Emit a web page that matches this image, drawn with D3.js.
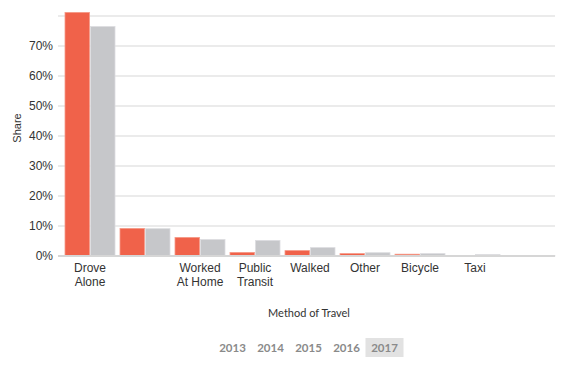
<!DOCTYPE html>
<html><head><meta charset="utf-8">
<script src="https://cdn.jsdelivr.net/npm/d3@7/dist/d3.min.js"></script>
<style>
body{margin:0;background:#fff;}
svg{display:block;}
</style></head>
<body><svg id="c" width="561" height="366"></svg>
<script>
const categories = ["Drove Alone","Carpooled","Worked At Home","Public Transit","Walked","Other","Bicycle","Taxi","Motorcycle"];
const categoryLabels = [["Drove","Alone"],[""],["Worked","At Home"],["Public","Transit"],["Walked"],["Other"],["Bicycle"],["Taxi"],[""]];
const seriesNames = ["Place","United States"];
const placeShare = [0.812,0.092,0.062,0.012,0.018,0.008,0.006,0.000,0.000];
const usShare    = [0.765,0.091,0.055,0.052,0.028,0.011,0.008,0.005,0.001];
const yTicks = [0,0.1,0.2,0.3,0.4,0.5,0.6,0.7,0.8];
const years = ["2013","2014","2015","2016","2017"];
const selectedYear = "2017";

const colors = {"Place":"#f0624a","United States":"#c6c7ca"};
const strokes = {"Place":"#f59a88","United States":"#dcdde0"};

const svg = d3.select("#c");
const x0 = d3.scaleBand().domain(categories).range([62.5,557.5]).paddingInner(5/55).paddingOuter(2.5/55);
const x1 = d3.scaleBand().domain(seriesNames).range([0,x0.bandwidth()]).paddingInner(0.04);
const y = d3.scaleLinear().domain([0,0.8]).range([256,16]);

// gridlines
svg.append("g").selectAll("line").data(yTicks.filter(d=>d>0)).join("line")
  .attr("x1",58).attr("x2",555).attr("y1",d=>y(d)).attr("y2",d=>y(d))
  .attr("stroke","#e4e4e4").attr("stroke-width",1.5);

// y labels
const yAxis = d3.axisLeft(y).tickValues(yTicks.filter(d=>d<0.8)).tickFormat(d3.format(".0%")).tickSize(0).tickPadding(0);
const ya = svg.append("g").attr("transform","translate(53,0)").call(yAxis);
ya.select(".domain").remove();
ya.selectAll("text").attr("font-family","Liberation Sans, Arial, sans-serif").attr("font-size",12).attr("fill","#333");

// bars
const data = categories.map((c,i)=>({c, vals:[{s:"Place",v:placeShare[i]},{s:"United States",v:usShare[i]}]}));
const g = svg.append("g").selectAll("g").data(data).join("g").attr("transform",d=>`translate(${x0(d.c)},0)`);
g.selectAll("rect").data(d=>d.vals.filter(e=>e.v>0)).join("rect")
  .attr("x",d=>x1(d.s)).attr("width",x1.bandwidth())
  .attr("y",d=>y(d.v)).attr("height",d=>y(0)-y(d.v))
  .attr("fill",d=>colors[d.s]).attr("stroke",d=>strokes[d.s]).attr("stroke-width",0.8);

// baseline
svg.append("line").attr("x1",58).attr("x2",555).attr("y1",256).attr("y2",256).attr("stroke","#d6d6d6").attr("stroke-width",2);

// x labels
const xl = svg.append("g").selectAll("text").data(categories).join("text")
  .attr("x",d=>x0(d)+x0.bandwidth()/2).attr("y",272)
  .attr("text-anchor","middle").attr("font-family","Liberation Sans, Arial, sans-serif").attr("font-size",12).attr("fill","#333");
xl.each(function(d,i){
  const t=d3.select(this);
  categoryLabels[i].forEach((ln,j)=>t.append("tspan").attr("x",x0(d)+x0.bandwidth()/2).attr("dy",j?14:0).text(ln));
});

// axis titles
svg.append("text").attr("transform","translate(21,128) rotate(-90)").attr("text-anchor","middle")
  .attr("font-family","Liberation Sans, Arial, sans-serif").attr("font-size",11).attr("fill","#333").text("Share");
svg.append("text").attr("x",309).attr("y",317).attr("text-anchor","middle")
  .attr("font-family","Lato, sans-serif").attr("font-size",11).attr("fill","#333").text("Method of Travel");

// year buttons
const yb = d3.scalePoint().domain(years).range([232.5,384.5]);
svg.append("rect").attr("x",yb(selectedYear)-19).attr("y",338).attr("width",38).attr("height",19).attr("fill","#e2e2e2");
svg.append("g").selectAll("text").data(years).join("text")
  .attr("x",d=>yb(d)).attr("y",352).attr("text-anchor","middle")
  .attr("font-family","Lato, sans-serif").attr("font-weight","bold").attr("font-size",11.5).attr("fill","#8a8a8a").text(d=>d);
</script></body></html>
